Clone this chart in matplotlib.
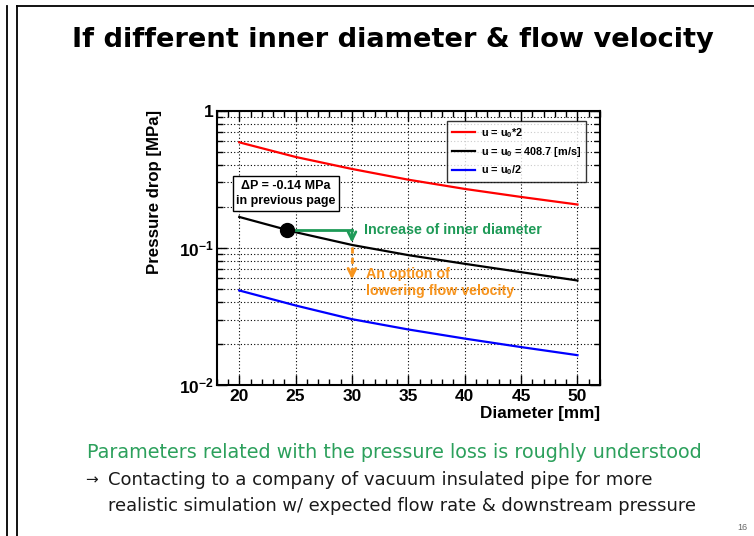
import numpy as np
import matplotlib
matplotlib.use('Agg')
import matplotlib.pyplot as plt
from matplotlib.ticker import FixedLocator, LogLocator, NullFormatter, MultipleLocator
from matplotlib.lines import Line2D

plt.rcParams['font.family'] = ['Liberation Sans', 'DejaVu Sans']
plt.rcParams['mathtext.fontset'] = 'custom'
plt.rcParams['mathtext.rm'] = 'Liberation Sans'
plt.rcParams['mathtext.bf'] = 'Liberation Sans:bold'
plt.rcParams['mathtext.it'] = 'Liberation Sans:italic'

# values
diameter = [20, 25, 30, 35, 40, 45, 50]
dp_double = [0.588, 0.460, 0.376, 0.314, 0.269, 0.235, 0.207]
dp_nominal = [0.168, 0.130, 0.105, 0.0885, 0.0765, 0.0665, 0.0578]
dp_half = [0.0489, 0.0380, 0.0302, 0.0254, 0.0218, 0.0189, 0.0165]
labels = [r'u = u$_\mathbf{0}$*2', r'u = u$_\mathbf{0}$ = 408.7 [m/s]', r'u = u$_\mathbf{0}$/2']
colors = ['#ff0000', '#000000', '#0000ff']

prev_d, prev_dp = 24.2, 0.135
new_d = 30
green_tip, orange_top, orange_tip = 0.109, 0.102, 0.059

yticks = [0.01, 0.1, 1]
yticklabels = [r'$\mathbf{10^{-2}}$', r'$\mathbf{10^{-1}}$', '1']
xticks = [20, 25, 30, 35, 40, 45, 50]

GREEN = '#1e9a57'
ORANGE = '#f7941d'

fig = plt.figure(figsize=(7.54, 5.36), dpi=100)

# slide frame
fig.add_artist(Line2D([7/754, 7/754], [0, 1 - 6/536], color='black', lw=1.3))
fig.add_artist(Line2D([17/754, 17/754], [0, 1 - 6/536], color='black', lw=1.3))
fig.add_artist(Line2D([17/754, 1], [1 - 6/536, 1 - 6/536], color='black', lw=1.3))

fig.text(393/754, 1 - 40/536, 'If different inner diameter & flow velocity',
         ha='center', va='center', fontsize=19.6, fontweight='bold', family='DejaVu Sans')

ax = fig.add_axes([216.7/754, 1 - 385/536, 383.3/754, 274.3/536])
for y, c, lab in zip([dp_double, dp_nominal, dp_half], colors, labels):
    ax.plot(diameter, y, color=c, lw=1.6, label=lab)

ax.set_yscale('log')
ax.set_xlim(18, 52)
ax.set_ylim(0.01, 1)

ax.xaxis.set_major_locator(FixedLocator(xticks))
ax.xaxis.set_minor_locator(MultipleLocator(1))
ax.yaxis.set_major_locator(FixedLocator(yticks))
ax.yaxis.set_minor_locator(LogLocator(base=10, subs=np.arange(2, 10)))
ax.yaxis.set_minor_formatter(NullFormatter())
ax.set_yticklabels(yticklabels)
ax.set_xticklabels([str(v) for v in xticks])

ax.tick_params(which='both', direction='in', top=True, right=True, width=1)
ax.tick_params(which='major', length=7.5, labelsize=12.5)
ax.tick_params(axis='x', which='major', pad=3)
ax.tick_params(axis='y', which='major', pad=2)
ax.tick_params(which='minor', length=4)
for lab in ax.get_xticklabels() + ax.get_yticklabels():
    lab.set_fontweight('bold')
for s in ax.spines.values():
    s.set_linewidth(1.5)

ax.grid(axis='x', which='major', color='black', linestyle=(0, (1, 2)), lw=0.8)
ax.grid(axis='y', which='both', color='black', linestyle=(0, (1, 2)), lw=0.8)

ax.set_xlabel('Diameter [mm]', loc='right', fontsize=12.3, fontweight='bold', labelpad=1)
fig.text(155/754, 1 - 110/536, 'Pressure drop [MPa]', rotation=90, ha='center', va='top',
         fontsize=12.1, fontweight='bold')

leg = ax.legend(loc='upper left', bbox_to_anchor=(0.600, 0.962), borderaxespad=0,
                prop={'weight': 'bold', 'size': 7.8}, frameon=True, fancybox=False,
                handlelength=2.2, handletextpad=0.5, labelspacing=0.45, borderpad=0.45)
leg.get_frame().set_edgecolor('black')
leg.get_frame().set_linewidth(1.0)

# previous-page point and arrows
ax.plot([prev_d], [prev_dp], 'o', color='black', ms=10, zorder=5)
ax.plot([prev_d, new_d], [prev_dp, prev_dp], color=GREEN, lw=2, zorder=4)
ax.annotate('', xy=(new_d, green_tip), xytext=(new_d, prev_dp),
            arrowprops=dict(arrowstyle='->', color=GREEN, lw=2, mutation_scale=14,
                            shrinkA=0, shrinkB=0))
ax.plot([new_d, new_d], [orange_top, orange_tip * 1.05], color=ORANGE, lw=2,
        linestyle=(0, (2.2, 1.5)))
ax.annotate('', xy=(new_d, orange_tip), xytext=(new_d, orange_tip * 1.12),
            arrowprops=dict(arrowstyle='->', color=ORANGE, lw=2, mutation_scale=14,
                            shrinkA=0, shrinkB=0))

ax.text(24.15, 0.248, 'ΔP = -0.14 MPa\nin previous page', ha='center', va='center',
        fontsize=9, fontweight='bold', linespacing=1.35,
        bbox=dict(boxstyle='square,pad=0.3', fc='white', ec='black', lw=1.0))
ax.text(31.1, 0.135, 'Increase of inner diameter', ha='left', va='center',
        fontsize=10.3, fontweight='bold', color=GREEN)
ax.text(31.2, 0.0558, 'An option of\nlowering flow velocity', ha='left', va='center',
        fontsize=10.3, fontweight='bold', color=ORANGE, linespacing=1.2)

# slide text
fig.text(87/754, 1 - 452/536, 'Parameters related with the pressure loss is roughly understood',
         ha='left', va='center', fontsize=13.8, color='#2ca05c', family='DejaVu Sans')
fig.text(85/754, 1 - 480/536, '→', ha='left', va='center', fontsize=11,
         color='#1a1a1a', family='DejaVu Sans')
fig.text(108/754, 1 - 480/536, 'Contacting to a company of vacuum insulated pipe for more',
         ha='left', va='center', fontsize=13, color='#1a1a1a', family='DejaVu Sans')
fig.text(108/754, 1 - 506/536, 'realistic simulation w/ expected flow rate & downstream pressure',
         ha='left', va='center', fontsize=12.9, color='#1a1a1a', family='DejaVu Sans')
fig.text(742/754, 1 - 527/536, '16', ha='center', va='center', fontsize=6.5, color='#666666')

fig.savefig('out.png', dpi=100)
